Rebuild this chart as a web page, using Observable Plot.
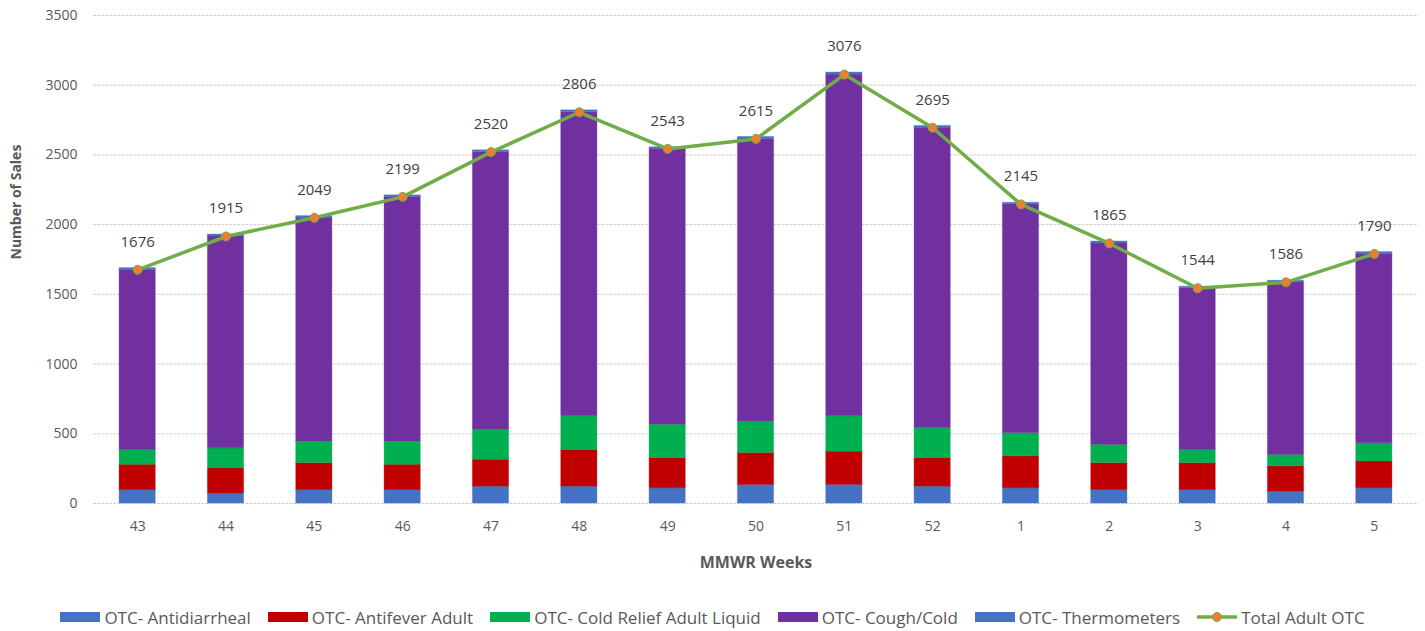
<!DOCTYPE html>
<html>
<head>
<meta charset="utf-8">
<script src="https://cdn.jsdelivr.net/npm/d3@7"></script>
<script src="https://cdn.jsdelivr.net/npm/@observablehq/plot@0.6"></script>
<style>
  body { margin: 0; background: #fff; font-family: "Open Sans", "Liberation Sans", sans-serif; }
  #legend { display: flex; justify-content: center; align-items: center; gap: 17px; font-size: 17px; color: #595959; height: 26px; margin-left: 0px; }
  .item { display: flex; align-items: center; gap: 4px; }
  .sw { width: 40px; height: 10px; display: inline-block; }
</style>
</head>
<body>
<div id="chart"></div>
<div id="legend"></div>
<script>
const weeks = ["43","44","45","46","47","48","49","50","51","52","1","2","3","4","5"];
const antidiarrheal = [96, 72, 96, 96, 121, 121, 109, 133, 133, 121, 109, 96, 96, 84, 109];
const antifever     = [182, 182, 194, 182, 193, 263, 217, 229, 239, 205, 229, 194, 194, 182, 193];
const coldRelief    = [106, 142, 154, 166, 215, 242, 239, 227, 254, 215, 167, 130, 94, 82, 130];
const coughCold     = [1292, 1519, 1605, 1755, 1991, 2180, 1978, 2026, 2450, 2154, 1640, 1445, 1160, 1238, 1358];
const thermometers  = [12, 14, 12, 11, 13, 14, 12, 14, 15, 13, 12, 14, 11, 12, 13];
const totalAdultOTC = [1676, 1915, 2049, 2199, 2520, 2806, 2543, 2615, 3076, 2695, 2145, 1865, 1544, 1586, 1790];
const yTicks = [0, 500, 1000, 1500, 2000, 2500, 3000, 3500];

const seriesNames = ["OTC- Antidiarrheal", "OTC- Antifever Adult", "OTC- Cold Relief Adult Liquid", "OTC- Cough/Cold", "OTC- Thermometers"];
const seriesColors = ["#4472C4", "#C00000", "#00B050", "#7030A0", "#4472C4"];
const seriesValues = [antidiarrheal, antifever, coldRelief, coughCold, thermometers];

const stacked = [];
seriesNames.forEach((s, i) => weeks.forEach((w, j) => stacked.push({week: w, series: s, value: seriesValues[i][j]})));
const totals = weeks.map((w, j) => ({week: w, total: totalAdultOTC[j]}));

const chart = Plot.plot({
  width: 1425,
  height: 604,
  marginTop: 15,
  marginBottom: 101,
  marginLeft: 93,
  marginRight: 7,
  style: {fontFamily: "'Open Sans', 'Liberation Sans', sans-serif", fontSize: "14px", color: "#595959"},
  x: {domain: weeks, paddingInner: 0.59, paddingOuter: 0.295, round: false, label: null},
  y: {domain: [0, 3500], label: null},
  color: {domain: seriesNames, range: seriesColors},
  marks: [
    Plot.gridY(yTicks, {stroke: "#d0d0d0", strokeOpacity: 1, strokeDasharray: "3,1"}),
    Plot.barY(stacked, Plot.stackY({order: seriesNames}, {x: "week", y: "value", fill: "series", stroke: "series", strokeOpacity: 0.35, strokeWidth: 1})),
    Plot.line(totals, {x: "week", y: "total", stroke: "#70AD47", strokeWidth: 3.5}),
    Plot.dot(totals, {x: "week", y: "total", r: 4.5, fill: "#ED7D31", stroke: "#70AD47", strokeWidth: 1}),
    Plot.text(totals, {x: "week", y: "total", text: d => String(d.total), dy: -28, fill: "#404040", fontSize: 15}),
    Plot.axisX({tickSize: 0, tickPadding: 18, label: null, fontSize: 14}),
    Plot.axisY(yTicks, {tickSize: 0, tickPadding: 16, label: null, fontSize: 14, tickFormat: d => String(d)}),
    Plot.text(["MMWR Weeks"], {frameAnchor: "bottom", dy: 64, fontWeight: "bold", fontSize: 16, fill: "#595959"}),
    Plot.text(["Number of Sales"], {frameAnchor: "left", dx: -77, rotate: -90, fontWeight: "bold", fontSize: 14, fill: "#595959"})
  ]
});
document.getElementById("chart").appendChild(chart);

const legend = document.getElementById("legend");
seriesNames.forEach((s, i) => {
  const it = document.createElement("span"); it.className = "item";
  it.innerHTML = `<span class="sw" style="background:${seriesColors[i]}"></span>${s}`;
  legend.appendChild(it);
});
const li = document.createElement("span"); li.className = "item";
li.innerHTML = `<svg width="40" height="12"><line x1="0" y1="6" x2="40" y2="6" stroke="#70AD47" stroke-width="3.5"/><circle cx="20" cy="6" r="4.5" fill="#ED7D31" stroke="#70AD47"/></svg>Total Adult OTC`;
legend.appendChild(li);
</script>
</body>
</html>
